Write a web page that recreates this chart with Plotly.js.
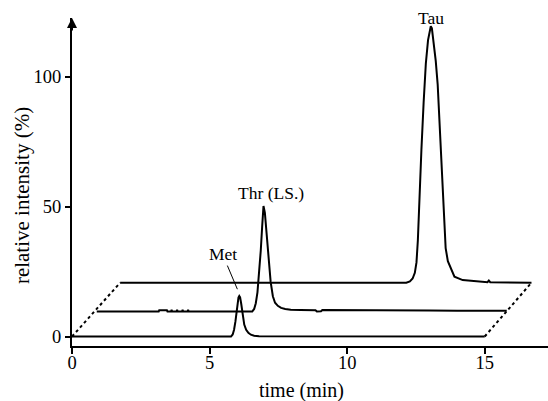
<!DOCTYPE html>
<html>
<head>
<meta charset="utf-8">
<script src="https://cdn.plot.ly/plotly-3.0.1.min.js"></script>
<style>html,body{margin:0;padding:0;background:#fff;}#chart{width:548px;height:401px;}</style>
</head>
<body>
<div id="chart"></div>
<script>
// Bottom chromatogram (Met), time in min / relative intensity in %
const metTime = [0, 5.78, 5.84, 5.89, 5.94, 5.98, 6.02, 6.05, 6.08, 6.11, 6.15, 6.2, 6.26, 6.33, 6.41, 6.5, 6.62, 6.8, 15];
const metIntensity = [0, 0, 0.8, 2.6, 5.8, 9.5, 13, 15, 15.6, 15.1, 12.6, 8.2, 4.6, 2.6, 1.4, 0.7, 0.3, 0.1, 0];

// Middle chromatogram (Thr, internal standard)
const thrTime = [0.9, 3.15, 3.17, 3.45, 3.47, 3.6, 3.62, 3.64, 3.8, 3.82, 3.84, 4.0, 4.02, 4.04, 4.2, 4.22, 4.24,
  6.55, 6.62, 6.68, 6.74, 6.8, 6.86, 6.91, 6.96, 7.01, 7.07, 7.14, 7.22, 7.3, 7.38, 7.48, 7.6, 7.75, 7.95, 8.3,
  8.85, 8.9, 9.05, 9.1, 10.0, 12.0, 13.0, 14.0, 15.8];
const thrIntensity = [9.6, 9.6, 10.1, 10.1, 9.6, 9.6, 10.3, 9.6, 9.6, 10.3, 9.6, 9.6, 10.3, 9.6, 9.6, 10.3, 9.6,
  9.6, 10.6, 12.8, 17, 24, 33, 42, 50.2, 47.5, 40, 30, 21, 15.5, 13, 11.8, 11, 10.6, 10.3, 10.2,
  10.1, 9.6, 9.7, 10.2, 10.2, 10.1, 10.0, 9.9, 9.9];

// Top chromatogram (Tau)
const tauTime = [1.75, 12.15, 12.28, 12.38, 12.46, 12.52, 12.57, 12.62, 12.7, 12.78, 12.86, 12.94, 13.0, 13.04,
  13.08, 13.14, 13.22, 13.29, 13.35, 13.42, 13.48, 13.53, 13.58, 13.66, 13.75, 13.9, 14.2, 14.7, 15.1, 15.15, 15.2, 16.7];
const tauIntensity = [20.7, 20.7, 21.2, 22.3, 24.5, 28.5, 37, 52, 72, 90, 105, 114, 118, 119.3,
  118.5, 114, 106, 97, 84, 68, 53, 42, 34, 29, 26.5, 23, 21.7, 21.1, 20.9, 21.5, 20.9, 20.7];

// Dotted perspective guides joining the trace ends
const leftGuideTime = [0, 1.75];
const leftGuideIntensity = [0, 20.7];
const rightGuideTime = [15, 16.7];
const rightGuideIntensity = [0, 20.7];

// Axis ticks and labels
const xTicks = [0, 5, 10, 15];
const yTicks = [0, 50, 100];
const peakLabels = ['Met', 'Thr (LS.)', 'Tau'];
const xTitle = 'time (min)';
const yTitle = 'relative intensity (%)';

const serif = 'Liberation Serif, Times New Roman, serif';
const line = {color: '#000', width: 2};

const traces = [
  {x: leftGuideTime, y: leftGuideIntensity, mode: 'lines', line: {color: '#000', width: 2, dash: 'dot'}},
  {x: rightGuideTime, y: rightGuideIntensity, mode: 'lines', line: {color: '#000', width: 2, dash: 'dot'}},
  {x: metTime, y: metIntensity, mode: 'lines', line: line},
  {x: thrTime, y: thrIntensity, mode: 'lines', line: line},
  {x: tauTime, y: tauIntensity, mode: 'lines', line: line}
];

const layout = {
  width: 548, height: 401,
  margin: {l: 72, r: 0, t: 18, b: 55},
  paper_bgcolor: '#fff', plot_bgcolor: '#fff',
  showlegend: false, hovermode: false,
  font: {family: serif, color: '#000', size: 18},
  xaxis: {
    range: [0, 17.3], showgrid: false, zeroline: false,
    showline: true, linecolor: '#000', linewidth: 2,
    ticks: 'outside', ticklen: 6, tickwidth: 2, tickcolor: '#000',
    ticklabelstandoff: -7,
    tickvals: xTicks, ticktext: xTicks.map(String),
    tickfont: {family: serif, size: 18.5, color: '#000'}
  },
  yaxis: {
    range: [-3.65, 122.5], showgrid: false, zeroline: false,
    showline: true, linecolor: '#000', linewidth: 2,
    ticks: 'outside', ticklen: 5, tickwidth: 2, tickcolor: '#000',
    tickvals: yTicks, ticktext: yTicks.map(String),
    tickfont: {family: serif, size: 18.5, color: '#000'}
  },
  annotations: [
    {x: 6.01, y: 18.2, xref: 'x', yref: 'y', ax: 5.47, ay: 31.7, axref: 'x', ayref: 'y',
     text: peakLabels[0], showarrow: true, arrowhead: 0, arrowwidth: 1, arrowcolor: '#000',
     font: {family: serif, size: 17.5, color: '#000'}},
    {x: 7.24, y: 55.2, xref: 'x', yref: 'y', text: peakLabels[1], showarrow: false,
     font: {family: serif, size: 17.5, color: '#000'}},
    {x: 13.05, y: 1, xref: 'x', yref: 'paper', yanchor: 'middle', text: peakLabels[2], showarrow: false,
     font: {family: serif, size: 17.5, color: '#000'}},
    {x: 0, y: 1, xref: 'paper', yref: 'paper', ax: 0, ay: 14, text: '', showarrow: true,
     arrowhead: 2, arrowsize: 1, arrowwidth: 2, arrowcolor: '#000'},
    {x: 0.483, y: 0, xref: 'paper', yref: 'paper', yanchor: 'middle', yshift: -44, text: xTitle,
     showarrow: false, font: {family: serif, size: 20, color: '#000'}},
    {x: 0, y: 0.457, xref: 'paper', yref: 'paper', xanchor: 'center', xshift: -50, textangle: -90,
     text: yTitle, showarrow: false, font: {family: serif, size: 21, color: '#000'}}
  ]
};

Plotly.newPlot('chart', traces, layout, {staticPlot: true, displayModeBar: false});
</script>
</body>
</html>
